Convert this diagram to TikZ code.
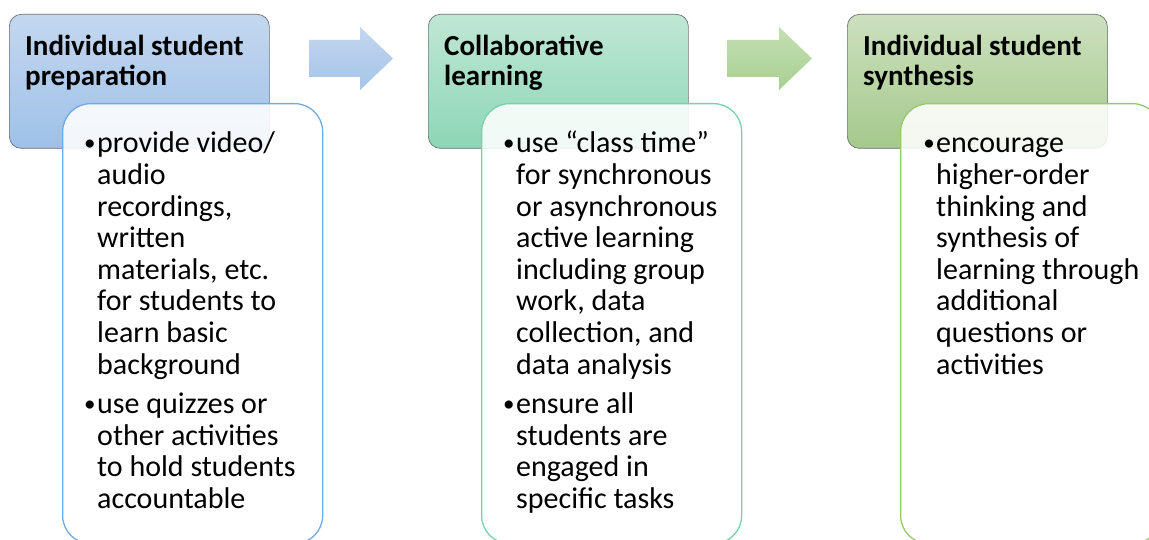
\documentclass[tikz,border=0pt]{standalone}
\usepackage{fontspec}
\setmainfont{Carlito}
\definecolor{hAtop}{RGB}{196,215,239}
\definecolor{hAbot}{RGB}{158,193,232}
\definecolor{hBtop}{RGB}{192,231,213}
\definecolor{hBbot}{RGB}{140,214,182}
\definecolor{hCtop}{RGB}{204,224,190}
\definecolor{hCbot}{RGB}{165,201,140}
\definecolor{hedge}{RGB}{105,112,120}
\definecolor{bA}{RGB}{112,170,224}
\definecolor{bB}{RGB}{118,210,170}
\definecolor{bC}{RGB}{150,200,112}
\definecolor{aAtop}{RGB}{196,214,238}
\definecolor{aAbot}{RGB}{164,197,232}
\definecolor{aBtop}{RGB}{196,224,178}
\definecolor{aBbot}{RGB}{168,207,146}
\newcommand\bodyfont{\fontsize{30}{31.6}\selectfont\baselineskip=31.6pt\lineskiplimit=-60pt\lineskip=0pt}
\newcommand\headfont{\fontsize{29}{29.5}\selectfont\bfseries\baselineskip=29.5pt\lineskiplimit=-60pt\lineskip=0pt}
\newcommand\bdot{\raisebox{2.2pt}{\fontsize{23}{23}\selectfont\textbullet}}
\newcommand\bitem[1]{\hbox{\llap{\bdot\hskip1.5pt}#1}}
\newcommand\bline[1]{\hbox{#1}}
\newcommand\pgap{\vskip 8pt}
\tikzset{
  x=1pt, y=-1pt,
  headbox/.style={draw=hedge, line width=0.7pt, rounded corners=12pt,
    minimum width=260pt, minimum height=134pt, anchor=north west, inner sep=0pt},
  bodybox/.style={draw=#1, line width=1.3pt, rounded corners=28pt,
    fill=white, fill opacity=0.88, draw opacity=1,
    minimum width=260pt, minimum height=440pt, anchor=north west, inner sep=0pt},
  txt/.style={anchor=base west, inner sep=0pt, text opacity=1},
}
\begin{document}
\begin{tikzpicture}
\useasboundingbox (0,0) rectangle (1149,540);
\clip (0,0) rectangle (1149,540);
\fill[white] (0,0) rectangle (1149,540);
% headers
\node[headbox, top color=hAtop, bottom color=hAbot] (h1) at (9,14) {};
\node[headbox, top color=hBtop, bottom color=hBbot] (h2) at (428,14) {};
\node[headbox, top color=hCtop, bottom color=hCbot] (h3) at (847,14) {};
\node[txt] (h1t) at (25,56) {\vtop{\headfont\bline{Individual student}\bline{preparation}}};
\node[txt] (h2t) at (444,56) {\vtop{\headfont\bline{Collaborative}\bline{learning}}};
\node[txt] (h3t) at (863,56) {\vtop{\headfont\bline{Individual student}\bline{synthesis}}};
% arrows
\path[top color=aAtop, bottom color=aAbot] (309,40) -- (360,40) -- (360,27) -- (393,58.5) -- (360,90) -- (360,77) -- (309,77) -- cycle;
\path[top color=aBtop, bottom color=aBbot] (727,40) -- (779,40) -- (779,27) -- (812,58.5) -- (779,90) -- (779,77) -- (727,77) -- cycle;
% bodies
\node[bodybox=bA] (b1) at (62,103) {};
\node[bodybox=bB] (b2) at (481,103) {};
\node[bodybox=bC] (b3) at (900,103) {};
\node[txt] (b1t) at (97,153) {\vtop{\bodyfont
  \bitem{provide video/}
  \bline{audio}
  \bline{recordings,}
  \bline{written}
  \bline{materials, etc.}
  \bline{for students to}
  \bline{learn basic}
  \bline{background}
  \pgap
  \bitem{use quizzes or}
  \bline{other activities}
  \bline{to hold students}
  \bline{accountable}}};
\node[txt] (b2t) at (516,153) {\vtop{\bodyfont
  \bitem{use “class time”}
  \bline{for synchronous}
  \bline{or asynchronous}
  \bline{active learning}
  \bline{including group}
  \bline{work, data}
  \bline{collection, and}
  \bline{data analysis}
  \pgap
  \bitem{ensure all}
  \bline{students are}
  \bline{engaged in}
  \bline{specific tasks}}};
\node[txt] (b3t) at (936,153) {\vtop{\bodyfont
  \bitem{encourage}
  \bline{higher-order}
  \bline{thinking and}
  \bline{synthesis of}
  \bline{learning through}
  \bline{additional}
  \bline{questions or}
  \bline{activities}}};
\end{tikzpicture}
\end{document}
